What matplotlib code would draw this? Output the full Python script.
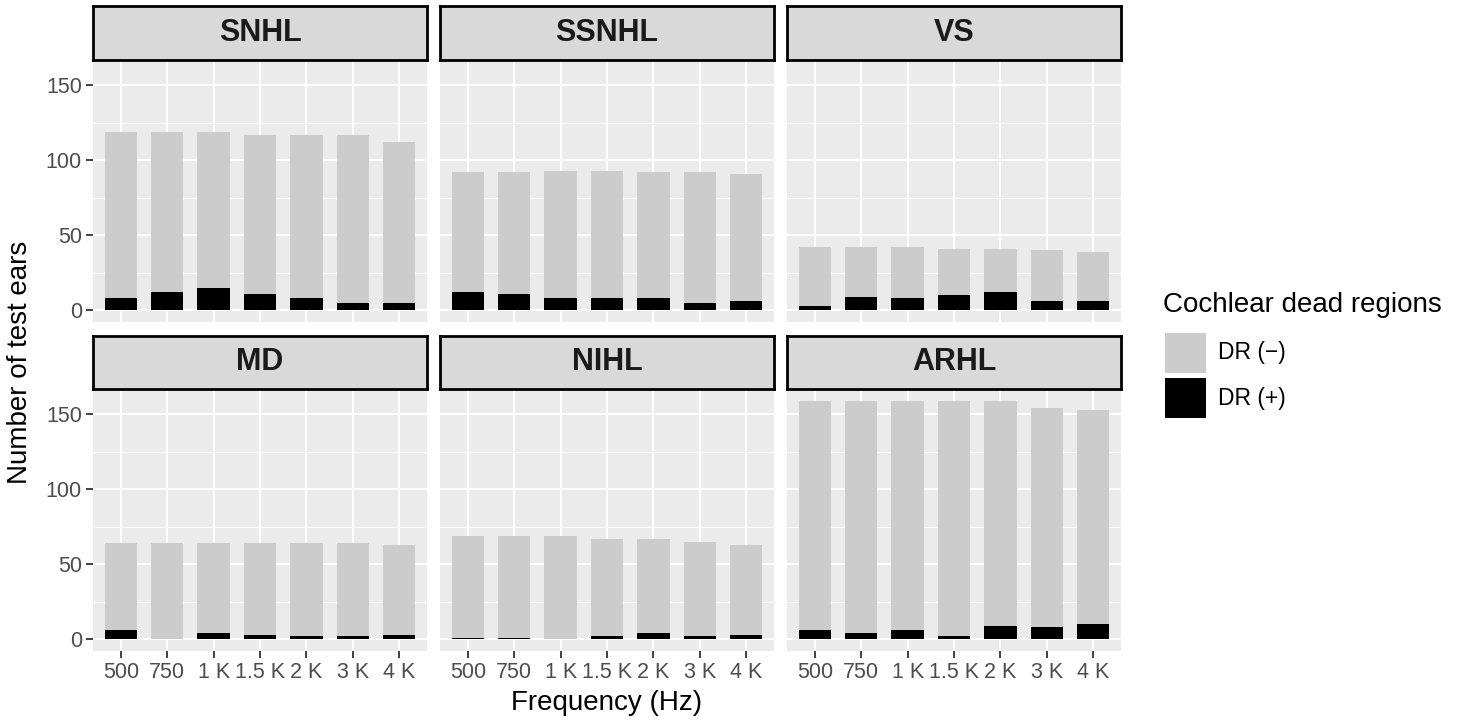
import matplotlib
matplotlib.use("Agg")
import matplotlib.pyplot as plt
from matplotlib.patches import Rectangle
import numpy as np

plt.rcParams['font.family'] = ['Liberation Sans', 'DejaVu Sans']

freqs = ["500", "750", "1 K", "1.5 K", "2 K", "3 K", "4 K"]
groups = ["SNHL", "SSNHL", "VS", "MD", "NIHL", "ARHL"]

total_snhl = [119, 119, 119, 117, 117, 117, 112]
dr_pos_snhl = [8, 12, 15, 11, 8, 5, 5]
total_ssnhl = [92, 92, 93, 93, 92, 92, 91]
dr_pos_ssnhl = [12, 11, 8, 8, 8, 5, 6]
total_vs = [42, 42, 42, 41, 41, 40, 39]
dr_pos_vs = [3, 9, 8, 10, 12, 6, 6]
total_md = [64, 64, 64, 64, 64, 64, 63]
dr_pos_md = [6, 0, 4, 3, 2, 2, 3]
total_nihl = [69, 69, 69, 67, 67, 65, 63]
dr_pos_nihl = [1, 1, 0, 2, 4, 2, 3]
total_arhl = [159, 159, 159, 159, 159, 154, 153]
dr_pos_arhl = [6, 4, 6, 2, 9, 8, 10]

totals = [total_snhl, total_ssnhl, total_vs, total_md, total_nihl, total_arhl]
dr_pos = [dr_pos_snhl, dr_pos_ssnhl, dr_pos_vs, dr_pos_md, dr_pos_nihl, dr_pos_arhl]

legend_title = "Cochlear dead regions"
legend_labels = ["DR (\u2212)", "DR (+)"]
xlabel = "Frequency (Hz)"
ylabel = "Number of test ears"

W, H = 1466, 721
fig = plt.figure(figsize=(W / 100, H / 100), dpi=100)

def fbox(x0, y0, x1, y1):
    return [x0 / W, 1 - y1 / H, (x1 - x0) / W, (y1 - y0) / H]

col_left = [93, 440, 787]
pw = 334
rows = [(6, 60, 322), (336, 389, 651)]

c_gray = "#CCCCCC"
c_black = "#000000"
ymax = max(max(t) for t in totals)
ylo, yhi = -0.05 * ymax, ymax * 1.05

for i, g in enumerate(groups):
    r, c = divmod(i, 3)
    sy0, py0, py1 = rows[r]
    x0 = col_left[c]
    ax = fig.add_axes(fbox(x0, py0, x0 + pw, py1))
    ax.set_facecolor("#EBEBEB")
    x = np.arange(len(freqs))
    pos = np.array(dr_pos[i])
    neg = np.array(totals[i]) - pos
    ax.bar(x, pos, width=0.7, color=c_black, zorder=3)
    ax.bar(x, neg, bottom=pos, width=0.7, color=c_gray, zorder=3)
    ax.set_xlim(-0.6, len(freqs) - 0.4)
    ax.set_ylim(ylo, yhi)
    ax.set_yticks([0, 50, 100, 150])
    ax.set_yticks([25, 75, 125], minor=True)
    ax.set_xticks(x)
    ax.grid(True, which='major', color='white', linewidth=1.5, zorder=1)
    ax.grid(True, which='minor', axis='y', color='white', linewidth=0.75, zorder=1)
    ax.set_axisbelow(True)
    for s in ax.spines.values():
        s.set_visible(False)
    ax.tick_params(which='minor', length=0)
    ax.tick_params(which='major', length=5, width=1.3, color='#333333',
                   labelsize=15.5, labelcolor='#4D4D4D', pad=3)
    if c == 0:
        ax.set_yticklabels(["0", "50", "100", "150"])
    else:
        ax.tick_params(axis='y', length=0, labelleft=False)
    if r == 1:
        ax.set_xticklabels(freqs)
    else:
        ax.tick_params(axis='x', length=0, labelbottom=False)

    sax = fig.add_axes(fbox(x0, sy0, x0 + pw, py0))
    sax.set_facecolor("#D9D9D9")
    sax.set_xticks([])
    sax.set_yticks([])
    for s in sax.spines.values():
        s.set_color("black")
        s.set_linewidth(2)
    sax.text(0.5, 0.5, g, transform=sax.transAxes, ha='center', va='center',
             fontsize=22, fontweight='bold', color='#1A1A1A')

fig.text(607 / W, 1 - 703 / H, xlabel, ha='center', va='center', fontsize=20, color='black')
fig.text(20 / W, 1 - 362 / H, ylabel, ha='center', va='center', rotation=90,
         fontsize=20, color='black')

# legend
fig.text(1163 / W, 1 - 305 / H, legend_title, ha='left', va='center', fontsize=20)
key_cols = [c_gray, c_black]
key_y = [(333, 373), (378, 418)]
for (ky0, ky1), col, lab in zip(key_y, key_cols, legend_labels):
    fig.add_artist(Rectangle((1165 / W, 1 - ky1 / H), 41 / W, (ky1 - ky0) / H,
                             transform=fig.transFigure, facecolor=col, edgecolor='none'))
    fig.text(1218 / W, 1 - ((ky0 + ky1) / 2) / H, lab, ha='left', va='center', fontsize=16.5)

fig.savefig("out.png", dpi=100)
